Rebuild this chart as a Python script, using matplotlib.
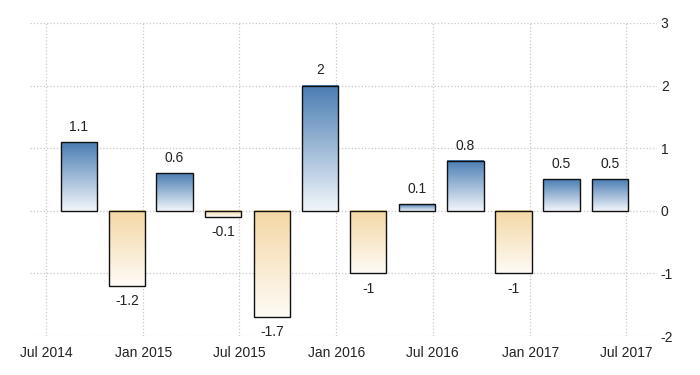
import matplotlib
matplotlib.use("Agg")
import matplotlib.pyplot as plt
import matplotlib.dates as mdates
from matplotlib.colors import LinearSegmentedColormap
import numpy as np
import datetime as dt

plt.rcParams['font.family'] = ['Liberation Sans Narrow', 'Liberation Sans', 'DejaVu Sans']
plt.rcParams['axes.unicode_minus'] = False

dates = ["2014-09-01", "2014-12-01", "2015-03-01", "2015-06-01", "2015-09-01", "2015-12-01",
         "2016-03-01", "2016-06-01", "2016-09-01", "2016-12-01", "2017-03-01", "2017-06-01"]
values = [1.1, -1.2, 0.6, -0.1, -1.7, 2, -1, 0.1, 0.8, -1, 0.5, 0.5]
labels = ["1.1", "-1.2", "0.6", "-0.1", "-1.7", "2", "-1", "0.1", "0.8", "-1", "0.5", "0.5"]
xtick_dates = ["2014-07-01", "2015-01-01", "2015-07-01", "2016-01-01", "2016-07-01", "2017-01-01", "2017-07-01"]
xtick_labels = ["Jul 2014", "Jan 2015", "Jul 2015", "Jan 2016", "Jul 2016", "Jan 2017", "Jul 2017"]
yticks = [-2, -1, 0, 1, 2, 3]

fig = plt.figure(figsize=(7, 3.75), dpi=100)
ax = fig.add_axes([0.043, 0.104, 0.895, 0.835])

xs = mdates.date2num([dt.datetime.fromisoformat(d) for d in dates])
width = 69

pos_cmap = LinearSegmentedColormap.from_list("pos", ["#f2f6fb", "#4a7db3"])
neg_cmap = LinearSegmentedColormap.from_list("neg", ["#fefbf6", "#f4d7a4"])
grad = np.linspace(0, 1, 256).reshape(-1, 1)

for x, v, lab in zip(xs, values, labels):
    x0, x1 = x - width / 2, x + width / 2
    if v >= 0:
        ax.imshow(grad, cmap=pos_cmap, aspect='auto', origin='lower',
                  extent=[x0, x1, 0, v], zorder=2)
        ax.text(x, v + 0.13, lab, ha='center', va='bottom', fontsize=10, color='#222222')
    else:
        ax.imshow(grad, cmap=neg_cmap, aspect='auto', origin='lower',
                  extent=[x0, x1, v, 0], zorder=2)
        ax.text(x, v - 0.13, lab, ha='center', va='top', fontsize=10, color='#222222')
    ax.bar(x, v, width=width, facecolor='none', edgecolor='#111111', linewidth=1.0, zorder=3)

xt = mdates.date2num([dt.datetime.fromisoformat(d) for d in xtick_dates])
ax.set_xticks(xt)
ax.set_xticklabels(xtick_labels)
ax.set_yticks(yticks)
ax.set_xlim(mdates.date2num(dt.datetime(2014, 6, 1)), mdates.date2num(dt.datetime(2017, 8, 28)))
ax.set_ylim(-2, 3)

ax.yaxis.tick_right()
ax.tick_params(axis='both', length=0, labelsize=10, labelcolor='#222222')
ax.tick_params(axis='y', pad=3)
ax.tick_params(axis='x', pad=7)
for s in ax.spines.values():
    s.set_visible(False)
ax.grid(True, color='#c8c8c8', linestyle=':', linewidth=0.9, zorder=0)
ax.set_axisbelow(True)

fig.savefig("out.png", dpi=100)
